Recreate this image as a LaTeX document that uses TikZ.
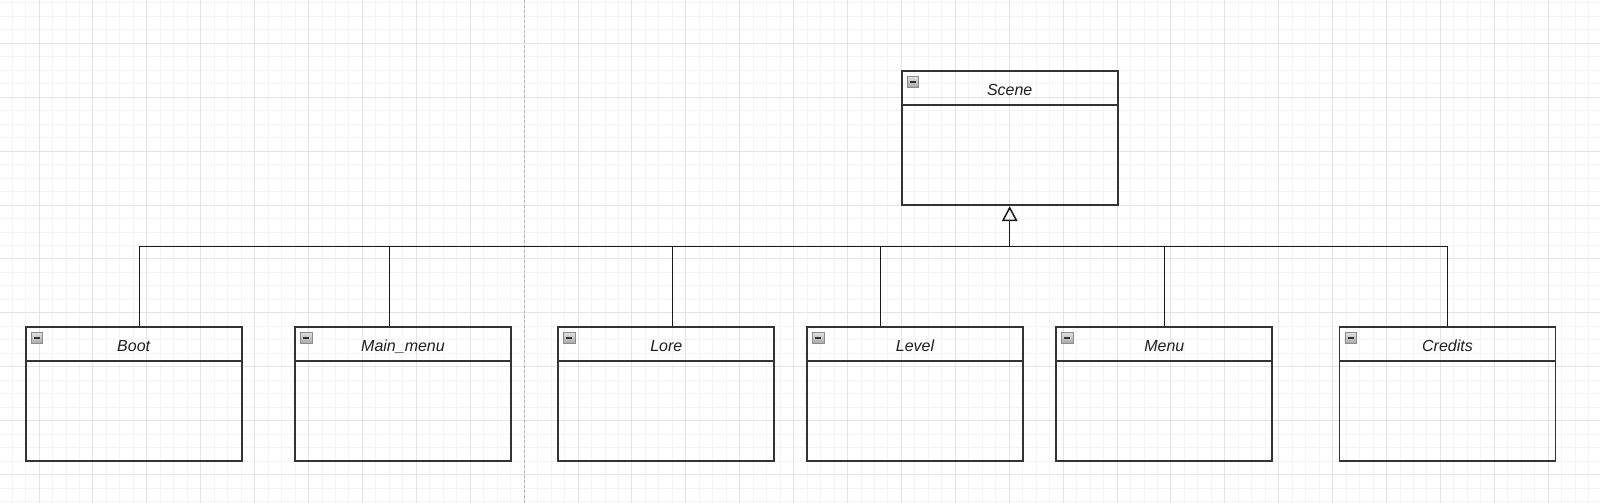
\documentclass[tikz,border=0pt]{standalone}
\usepackage{fontspec}
\setmainfont{Liberation Sans}
\usetikzlibrary{arrows.meta,calc}
\definecolor{gridmin}{HTML}{F4F4F4}
\definecolor{gridmaj}{HTML}{E4E4E4}
\definecolor{boxline}{HTML}{333333}
\tikzset{
  umlbox/.style={draw=boxline, line width=1.7pt, rectangle, minimum width=216pt, minimum height=134.6pt, inner sep=0pt},
  headline/.style={draw=boxline, line width=1.5pt},
  titletext/.style={anchor=base, inner sep=0pt, font=\fontsize{16}{19}\selectfont\itshape, text=black!88},
  iconbox/.style={draw=black!45, line width=0.8pt, minimum size=11.5pt, inner sep=0pt, top color=black!12, bottom color=black!35,
    path picture={\draw[line width=1.8pt, black!80] ([xshift=-3pt]path picture bounding box.center) -- ([xshift=3pt]path picture bounding box.center);}},
  conn/.style={draw=black!90, line width=1.5pt},
  inherit/.style={conn, -{Triangle[open, length=15pt, width=15.5pt, line width=1.5pt]}}
}
\begin{document}
\begin{tikzpicture}[x=1pt,y=-1pt]
\useasboundingbox (0,0) rectangle (1600,503);
\fill[white] (0,0) rectangle (1600,503);
% minor grid
\foreach \i in {0,...,118} {\draw[gridmin, line width=0.9pt] ({12.05+13.475*\i},0) -- ({12.05+13.475*\i},503);}
\foreach \j in {0,...,37} {\draw[gridmin, line width=0.9pt] (0,{2.875+13.475*\j}) -- (1600,{2.875+13.475*\j});}
% major grid
\foreach \i in {0,...,29} {\draw[gridmaj, line width=1pt] ({39+53.9*\i},0) -- ({39+53.9*\i},503);}
\foreach \j in {0,...,8} {\draw[gridmaj, line width=1pt] (0,{43.3+53.9*\j}) -- (1600,{43.3+53.9*\j});}
% page break line
\draw[black!28, line width=0.9pt, dash pattern=on 3pt off 2pt] (524.1,0) -- (524.1,503);

% boxes
\node[umlbox] (scene) at (1009.7,138) {};
\node[umlbox] (boot) at (133.7,394) {};
\node[umlbox] (mainmenu) at (403,394) {};
\node[umlbox] (lore) at (666.3,394) {};
\node[umlbox] (level) at (915,394) {};
\node[umlbox] (menu) at (1164.3,394) {};
\node[umlbox] (credits) at (1447.5,394) {};

\foreach \b/\t in {scene/Scene, boot/Boot, mainmenu/Main\_menu, lore/Lore, level/Level, menu/Menu, credits/Credits} {
  \draw[headline] ($(\b.north west)+(0,35)$) -- ($(\b.north east)+(0,35)$);
  \node[titletext] (\b-title) at ($(\b.north)+(0,25.5)$) {\t};
  \node[iconbox] (\b-icon) at ($(\b.north west)+(12,12.2)$) {};
}

% connectors
\coordinate (junction) at ($(scene.south)+(0,40.5)$);
\coordinate (bootat) at ($(boot.north)+(5.6,0)$);
\coordinate (mainat) at ($(mainmenu.north)+(-13.3,0)$);
\coordinate (loreat) at ($(lore.north)+(6.4,0)$);
\coordinate (levelat) at ($(level.north)+(-34.3,0)$);
\coordinate (menuat) at (menu.north);
\coordinate (creditsat) at (credits.north);
\foreach \c in {bootat, mainat, loreat, levelat, menuat, creditsat} {
  \draw[conn] (\c) |- (junction);
}
\draw[inherit] (junction) -- (scene.south);
\end{tikzpicture}
\end{document}
